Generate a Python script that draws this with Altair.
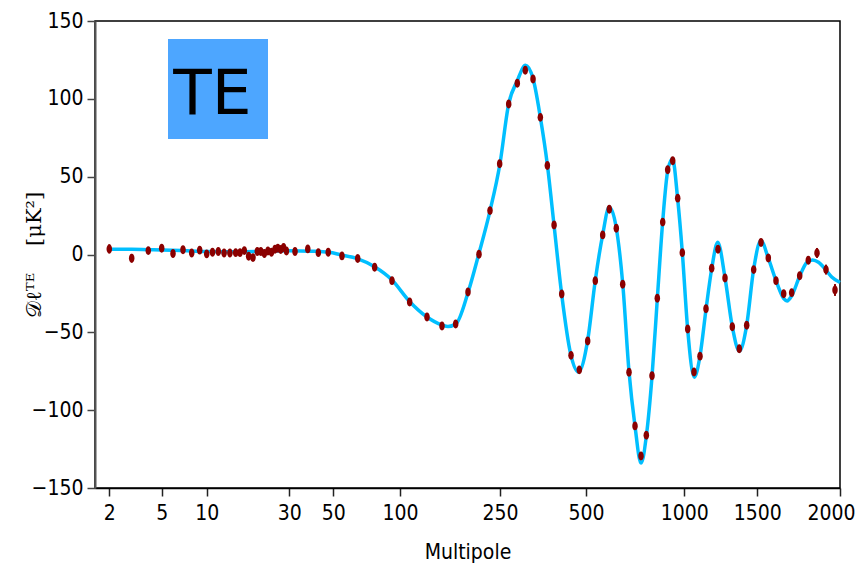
import altair as alt
import pandas as pd

# ---- theory curve (multipole, D_ell^TE in muK^2) ----
curve_l = [2, 3, 4, 5, 7, 10, 15, 20, 25, 30, 40, 48, 56, 68, 81, 94, 114, 140, 163, 172,
           184, 202, 218, 235, 250, 275, 300, 324, 346, 367, 388, 407, 429, 456, 478, 508,
           547, 585, 618, 654, 687, 719, 749, 780, 807, 836, 863, 890, 916, 940, 966, 990,
           1023, 1068, 1107, 1149, 1188, 1229, 1279, 1329, 1377, 1427, 1475, 1522, 1566,
           1613, 1660, 1680, 1708, 1756, 1800, 1835, 1870, 1915, 1950, 2000]
curve_d = [3.4, 3.3, 3.1, 2.9, 2.5, 2.0, 1.8, 2.0, 2.3, 2.4, 2.1, 1.4, -0.3, -2.6, -7.9, -16.4,
           -30.0, -40.0, -45.3, -46.3, -44.5, -24.5, 0.0, 28.0, 58.5, 96.5, 111.5, 121.5, 113.0,
           88.5, 57.0, 19.0, -25.0, -64.5, -75.5, -55.5, -16.8, 12.8, 30.5, 17.0, -19.0, -75.5,
           -110.0, -134.0, -116.5, -78.0, -28.0, 21.0, 54.0, 61.5, 36.0, 1.2, -48.0, -78.8,
           -65.5, -35.0, -9.0, 7.8, -15.0, -46.5, -62.0, -45.5, -9.5, 9.0, -2.2, -16.8, -28.3,
           -29.8, -26.5, -14.0, -5.0, -3.5, -5.0, -10.0, -14.5, -18.0]

# ---- measured band powers ----
data_l = list(range(2, 30)) + [
    32.6, 38.4, 43.2, 47.7, 56.5, 68.3, 81, 94, 114.5, 140.5, 163, 183.5, 202, 218.5, 235,
    249.5, 275.3, 300.3, 323.5, 346, 367.3, 387.7, 407.2, 429.4, 456.5, 480.5, 508.6, 547.3,
    584.9, 618.5, 654.1, 686.7, 718.8, 749.3, 779.8, 806.8, 835.8, 862.7, 890.2, 915.6, 941,
    966.5, 989.9, 1023.3, 1066.4, 1107.5, 1148.6, 1187.7, 1230.8, 1278.8, 1328.8, 1376.7,
    1427.4, 1475.3, 1522.4, 1566.5, 1613.1, 1659.6, 1708, 1756.4, 1808.4, 1861, 1915.4, 1969.8]
data_d = [3.6, -2.4, 2.5, 4.0, 0.6, 3.0, 1.0, 2.8, 0.4, 1.5, 1.9, 1.0, 1.0, 1.2, 1.2, 2.5,
          -1.1, -2.0, 1.9, 1.9, 0.6, 2.3, 1.5, 3.4, 4.0, 3.2, 4.5, 2.3] + [
    1.9, 3.6, 1.2, 1.5, -0.9, -2.6, -8.2, -16.8, -30.5, -40.2, -45.9, -44.7, -24.1, 0.2, 28.2,
    58.3, 96.7, 110.0, 118.3, 112.8, 88.1, 57.2, 19.0, -25.4, -64.8, -74.1, -55.6, -16.8,
    12.6, 29.1, 16.9, -19.1, -75.7, -110.1, -129.4, -116.1, -77.9, -28.1, 20.8, 54.4, 60.2,
    36.2, 1.2, -47.9, -75.5, -65.3, -34.8, -8.8, 3.4, -15.1, -46.4, -60.6, -45.5, -9.7, 7.7,
    -2.2, -16.8, -25.2, -24.5, -13.6, -3.7, 1.0, -9.7, -22.8]
data_err = [3.0, 2.8] + [2.0] * 26 + [1.5] * 60 + [2.5, 3.2, 3.2, 3.8]

# ---- multipole axis (stretched axis: log-like at low ell) ----
tick_values = [2, 5, 10, 30, 50, 100, 250, 500, 1000, 1500, 2000]
x_breaks = [1.47, 2, 3, 4, 5, 6, 7, 8, 9, 10, 15, 20, 25, 30, 50, 100, 250, 500, 1000, 1500, 2000]
x_pixels = [0, 14.3, 36.7, 53.3, 66.7, 78, 88, 96.7, 104.7, 111.7, 140.7, 162.3, 180, 194.3,
            238.3, 305, 405, 491, 589.3, 662.3, 745]

label_text = ["TE"]
y_title = "𝒟ℓᵀᴱ\u00a0\u00a0\u00a0\u00a0[μK²]"

W, H = 745, 467
FONT = "Liberation Sans Narrow, DejaVu Sans Condensed"

curve_df = pd.DataFrame({"ell": curve_l, "D": curve_d})
data_df = pd.DataFrame({"ell": data_l, "D": data_d, "err": data_err})
data_df["lo"] = data_df["D"] - data_df["err"]
data_df["hi"] = data_df["D"] + data_df["err"]

xscale = alt.Scale(domain=x_breaks, range=x_pixels, nice=False, zero=False)
yscale = alt.Scale(domain=[-150, 150], nice=False, zero=False)

xaxis = alt.Axis(values=tick_values, format="d", grid=False, title="Multipole",
                 labelFont=FONT, labelFontSize=21, labelColor="black", labelPadding=6,
                 tickSize=8, tickColor="#222", tickWidth=1.5, domainColor="black",
                 domainWidth=1.5, titleFont=FONT, titleFontSize=21, titleFontWeight="normal",
                 titleColor="black", titleBaseline="alphabetic", titleY=70,
                 labelFlush=True, labelFlushOffset=15)
yaxis = alt.Axis(values=[-150, -100, -50, 0, 50, 100, 150], grid=False,
                 title=y_title, labelFont=FONT, labelFontSize=21,
                 labelColor="black", labelPadding=4, tickSize=8, tickColor="#444",
                 tickWidth=1.5, domainColor="#555", domainWidth=2,
                 titleFont="DejaVu Serif", titleFontSize=21, titleFontWeight="normal",
                 titleColor="black", titleX=-61, titleY=H / 2,
                 titleAngle=270, titleAlign="center", titleBaseline="middle", labelFlush=False)

curve = alt.Chart(curve_df).mark_line(color="#00bfff", strokeWidth=3.5,
                                      interpolate="monotone").encode(
    x=alt.X("ell:Q", scale=xscale, axis=xaxis),
    y=alt.Y("D:Q", scale=yscale, axis=yaxis),
)

errs = alt.Chart(data_df).mark_rule(color="#8b0000", strokeWidth=2).encode(
    x="ell:Q", y="lo:Q", y2="hi:Q")

ellipse = "M0,-1A0.62,1,0,1,1,0,1A0.62,1,0,1,1,0,-1Z"
pts = alt.Chart(data_df).mark_point(shape=ellipse, size=80, filled=True,
                                    color="#8b0000", opacity=1).encode(
    x="ell:Q", y="D:Q")

lab_df = pd.DataFrame({"label": label_text})
box = alt.Chart(lab_df).mark_rect(color="#4da6ff").encode(
    x=alt.value(73), x2=alt.value(173), y=alt.value(18), y2=alt.value(118))
txt = alt.Chart(lab_df).mark_text(font="DejaVu Sans", fontSize=63, color="black",
                                  align="center", baseline="alphabetic").encode(
    x=alt.value(117.5), y=alt.value(92.5), text="label:N")

chart = alt.layer(box, txt, curve, errs, pts).properties(
    width=W, height=H,
    autosize=alt.AutoSizeParams(type="none"),
    padding={"left": 87, "top": 13, "right": 15, "bottom": 75},
).configure_view(stroke="black", strokeWidth=1.5)

chart.save("out.html", embed_options={"renderer": "svg", "actions": False})
